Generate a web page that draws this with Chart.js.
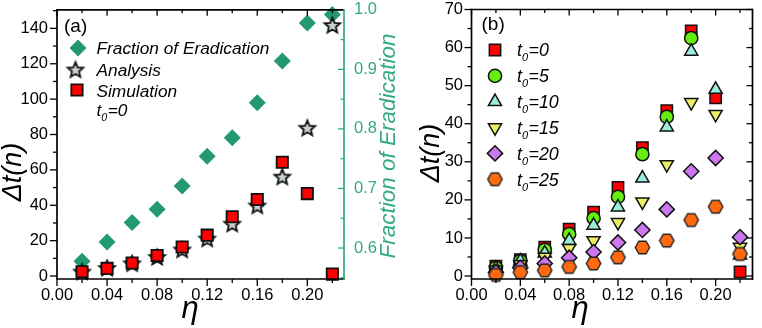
<!DOCTYPE html>
<html><head><meta charset="utf-8">
<script src="https://cdn.jsdelivr.net/npm/chart.js@4.4.0/dist/chart.umd.min.js"></script>
<style>
html,body{margin:0;padding:0;background:#fff;width:762px;height:328px;overflow:hidden}
#ca{position:absolute;left:0;top:0}
#cb{position:absolute;left:380px;top:0}
</style></head><body>
<canvas id="ca" width="410" height="328"></canvas>
<canvas id="cb" width="382" height="328"></canvas>
<script>
// ---------- data ----------
const eta = [0.02,0.04,0.06,0.08,0.10,0.12,0.14,0.16,0.18,0.20,0.22];
// panel (a)
const fractionEradication = [0.578,0.610,0.643,0.665,0.704,0.754,0.785,0.844,0.914,0.978,0.992];
const analysis   = [2.5,4.6,7.2,10.8,15.0,21.2,29.6,39.9,56.2,83.8,141.9];
const simulation = [2.4,4.3,7.4,11.6,16.4,23.1,33.5,43.3,64.3,46.6,1.1];
// panel (b)
const t0_0  = [2.6,4.3,7.6,12.3,16.8,23.3,33.7,43.4,64.4,46.8,1.1];
const t0_5  = [2.2,4.0,6.9,11.0,15.2,20.8,32.0,41.8,62.5,null,null];
const t0_10 = [2.0,3.9,6.0,9.3,13.3,18.1,25.7,39.1,59.0,49.0,5.5];
const t0_15 = [1.6,3.0,5.0,7.3,9.3,14.1,19.5,29.3,45.6,42.5,7.6];
const t0_20 = [1.0,2.2,3.3,4.8,6.3,8.8,12.1,17.5,27.5,31.0,10.2];
const t0_25 = [0.3,1.0,1.5,2.4,3.3,4.9,7.5,9.3,14.7,18.2,5.8];
// ticks
const xTicksMajor = [0,0.04,0.08,0.12,0.16,0.20];
const yTicksA = [0,20,40,60,80,100,120,140];
const y2TicksA = [0.6,0.7,0.8,0.9,1.0];
const yTicksB = [0,10,20,30,40,50,60,70];
const legendA = ['Fraction of Eradication','Analysis','Simulation'];
const legendB = ['0','5','10','15','20','25'];

// ---------- styling helpers ----------
const FONT = "'Liberation Sans', Arial, sans-serif";
Chart.defaults.font.family = FONT;
const GREEN = '#23996f';
const GREEN_AX = '#35a982';
const H = Chart.helpers;

function pts(ys){ return eta.map((x,i)=>({x:x,y:ys[i]})).filter(p=>p.y!==null); }

function makeStar(R, r, fill, stroke, lw){
  const s = Math.ceil(2*R + lw + 3);
  const c = document.createElement('canvas'); c.width = s; c.height = s;
  const g = c.getContext('2d');
  g.translate(s/2, s/2 + 0.8);
  g.beginPath();
  for (let i=0;i<10;i++){ const rr = i%2===0?R:r; const a = -Math.PI/2 + i*Math.PI/5; g.lineTo(rr*Math.cos(a), rr*Math.sin(a)); }
  g.closePath(); g.fillStyle = fill; g.fill();
  g.lineWidth = lw; g.strokeStyle = stroke; g.lineJoin = 'miter'; g.stroke();
  return c;
}
function makeHex(R, fill, stroke, lw){
  const s = Math.ceil(2*R + lw + 3);
  const c = document.createElement('canvas'); c.width = s; c.height = s;
  const g = c.getContext('2d');
  g.translate(s/2, s/2);
  g.beginPath();
  for (let i=0;i<6;i++){ const a = i*Math.PI/3; g.lineTo(R*Math.cos(a), R*Math.sin(a)); }
  g.closePath(); g.fillStyle = fill; g.fill();
  g.lineWidth = lw; g.strokeStyle = stroke; g.stroke();
  return c;
}
const starImg = makeStar(8.2, 3.7, '#c9d2d2', '#111', 1.8);
const hexImg = makeHex(7.2, '#ff6a10', '#222', 1.4);

function fixScale(w, h){
  return function(s){
    if (w !== undefined) s.width = w;
    if (h !== undefined) s.height = h;
    s.paddingTop = 0; s.paddingBottom = 0; s.paddingLeft = 0; s.paddingRight = 0;
  };
}
function line(ctx,x1,y1,x2,y2,col){ ctx.strokeStyle = col; ctx.beginPath(); ctx.moveTo(x1,y1); ctx.lineTo(x2,y2); ctx.stroke(); }

function drawFrameAndTicks(chart, cfg){
  const {ctx, chartArea:a, scales} = chart;
  ctx.save();
  ctx.lineWidth = 1.6;
  // ticks
  ctx.lineWidth = 1.3;
  // bottom / top
  for (let i=0;i<=11;i++){
    const v = i*0.02; const x = scales.x.getPixelForValue(v);
    if (x > a.right + 0.5) continue;
    const major = i%2===0;
    line(ctx, x, a.bottom, x, a.bottom + (major?7:4), '#000');
    line(ctx, x, a.top, x, a.top + (major?6:3.5), '#000');
  }
  // left
  for (let v=0; v<=cfg.yMax; v+=cfg.yMinor){
    const y = scales.y.getPixelForValue(v);
    if (y < a.top - 0.5) continue;
    const major = Math.round(v/cfg.yMinor)%2===0;
    line(ctx, a.left - (major?7:4), y, a.left, y, '#000');
    if (!cfg.right2) line(ctx, a.right - (major?6:3.5), y, a.right, y, '#000');
  }
  if (cfg.right2){
    for (let k=0; k<=9; k++){
      const v = 0.55 + k*0.05; const y = scales.y2.getPixelForValue(v);
      if (y > a.bottom + 0.5) continue;
      const major = k%2===1;
      line(ctx, a.right - (major?6:3.5), y, a.right, y, GREEN_AX);
    }
  }
  // frame
  ctx.lineWidth = 1.7;
  line(ctx, a.left, a.top, a.right, a.top, '#000');
  line(ctx, a.left, a.bottom, a.right + 0.8, a.bottom, '#000');
  line(ctx, a.left, a.top - 0.8, a.left, a.bottom + 0.8, '#000');
  line(ctx, a.right, a.top - 0.8, a.right, a.bottom + 0.8, cfg.right2 ? GREEN_AX : '#000');
  ctx.restore();
}
function rotText(ctx, txt, x, y, font, col){
  ctx.save(); ctx.translate(x,y); ctx.rotate(-Math.PI/2);
  ctx.font = font; ctx.fillStyle = col; ctx.textAlign = 'center'; ctx.textBaseline = 'middle';
  ctx.fillText(txt, 0, 0); ctx.restore();
}
function subText(ctx, x, base, main, sub, rest, size){
  ctx.save();
  ctx.fillStyle = '#000'; ctx.textBaseline = 'alphabetic'; ctx.textAlign = 'left';
  ctx.font = 'italic ' + size + 'px ' + FONT;
  ctx.fillText(main, x, base); x += ctx.measureText(main).width;
  ctx.font = 'italic ' + (size*0.62) + 'px ' + FONT;
  ctx.fillText(sub, x, base + 5); x += ctx.measureText(sub).width + 0.5;
  ctx.font = 'italic ' + size + 'px ' + FONT;
  ctx.fillText(rest, x, base);
  ctx.restore();
}
function marker(ctx, opts, x, y){
  ctx.save();
  ctx.fillStyle = opts.bg || '#000'; ctx.strokeStyle = opts.bc || '#000'; ctx.lineWidth = opts.bw || 0;
  H.drawPoint(ctx, {pointStyle: opts.style, radius: opts.r, rotation: opts.rot || 0, borderWidth: opts.bw || 0}, x, y);
  ctx.restore();
}

// ---------- panel (a) ----------
const styleA = [
  {style:'rectRot', r:8.5, bg:GREEN, bw:0},
  {style:starImg, r:8},
  {style:'rect', r:8, bg:'#ff0000', bc:'#111', bw:1.8}
];
const decoA = {
  id:'decoA',
  afterDraw(chart){
    const ctx = chart.ctx;
    drawFrameAndTicks(chart, {yMax:150, yMinor:10, right2:true});
    rotText(ctx, '\u0394t(n)', 13, 172, 'italic 27px ' + FONT, '#000');
    rotText(ctx, 'Fraction of Eradication', 389, 146, 'italic 22.5px ' + FONT, GREEN_AX);
    ctx.save();
    ctx.font = 'italic 31px ' + FONT; ctx.fillStyle = '#000'; ctx.textAlign = 'center'; ctx.textBaseline = 'alphabetic';
    ctx.fillText('\u03B7', 190, 318);
    ctx.font = '19px ' + FONT; ctx.textAlign = 'left'; ctx.textBaseline = 'alphabetic';
    ctx.fillText('(a)', 64, 32);
    ctx.font = 'italic 17.3px ' + FONT;
    const bases = [54, 75.5, 96.5];
    const my = [48, 69.5, 90];
    const mx = [78, 75.5, 77];
    legendA.forEach((t,i)=>{ ctx.fillText(t, 96.5, bases[i]); marker(ctx, styleA[i], mx[i], my[i]); });
    ctx.restore();
    subText(ctx, 96.5, 115.5, 't', '0', '=0', 17.3);
  }
};
new Chart(document.getElementById('ca'), {
  type:'scatter',
  data:{datasets:[
    {label:legendA[0], data:pts(fractionEradication), yAxisID:'y2', order:3,
     pointStyle:'rectRot', pointRadius:8.5, pointBackgroundColor:GREEN, pointBorderWidth:0, clip:false},
    {label:legendA[1], data:pts(analysis), yAxisID:'y', order:2,
     pointStyle:starImg, pointRadius:8, clip:false},
    {label:legendA[2], data:pts(simulation), yAxisID:'y', order:1,
     pointStyle:'rect', pointRadius:8, pointBackgroundColor:'#ff0000', pointBorderColor:'#111', pointBorderWidth:1.8, clip:false}
  ]},
  options:{
    responsive:false, animation:false, events:[],
    layout:{padding:{top:8,left:0,right:0,bottom:0}},
    plugins:{legend:{display:false}, tooltip:{enabled:false}},
    scales:{
      x:{type:'linear', position:'bottom', min:0, max:0.2293,
         grid:{display:false, drawTicks:false, tickLength:0}, border:{display:false},
         afterBuildTicks:(s)=>{ s.ticks = xTicksMajor.map(v=>({value:v})); },
         ticks:{padding:7, color:'#000', font:{size:16.5}, maxRotation:0, autoSkip:false, callback:(v)=>Number(v).toFixed(2)},
         afterFit:fixScale(undefined, 49)},
      y:{type:'linear', position:'left', min:-1.68, max:150.5,
         grid:{display:false, drawTicks:false, tickLength:0}, border:{display:false},
         afterBuildTicks:(s)=>{ s.ticks = yTicksA.map(v=>({value:v})); },
         ticks:{padding:9, color:'#000', font:{size:16.5}, autoSkip:false, callback:(v)=>String(v)},
         afterFit:fixScale(57)},
      y2:{type:'linear', position:'right', min:0.548, max:1.0,
         grid:{display:false, drawTicks:false, tickLength:0}, border:{display:false},
         afterBuildTicks:(s)=>{ s.ticks = y2TicksA.map(v=>({value:v})); },
         ticks:{padding:10, color:GREEN_AX, font:{size:16.5}, autoSkip:false, callback:(v)=>Number(v).toFixed(1)},
         afterFit:fixScale(66)}
    }
  },
  plugins:[decoA]
});

// ---------- panel (b) ----------
const styleB = [
  {style:'rect', r:8, bg:'#ff0000', bc:'#111', bw:1.5},
  {style:'circle', r:6.6, bg:'#66ee11', bc:'#111', bw:1.5},
  {style:'triangle', r:7.6, bg:'#99eedd', bc:'#111', bw:1.5},
  {style:'triangle', r:7.6, rot:180, bg:'#eeee66', bc:'#111', bw:1.5},
  {style:'rectRot', r:7.6, bg:'#cc77ee', bc:'#111', bw:1.5},
  {style:hexImg, r:7}
];
const seriesB = [t0_0,t0_5,t0_10,t0_15,t0_20,t0_25];
const decoB = {
  id:'decoB',
  afterDraw(chart){
    const ctx = chart.ctx;
    drawFrameAndTicks(chart, {yMax:70, yMinor:5, right2:false});
    rotText(ctx, '\u0394t(n)', 51, 153, 'italic 27px ' + FONT, '#000');
    ctx.save();
    ctx.font = 'italic 31px ' + FONT; ctx.fillStyle = '#000'; ctx.textAlign = 'center'; ctx.textBaseline = 'alphabetic';
    ctx.fillText('\u03B7', 200, 318);
    ctx.font = '19px ' + FONT; ctx.textAlign = 'left';
    ctx.fillText('(b)', 101.5, 30);
    ctx.restore();
    legendB.forEach((t,i)=>{
      const cy = 50 + i*25.85;
      marker(ctx, styleB[i], 115, cy);
      subText(ctx, 137, cy + 6.3, 't', '0', '=' + t, 17.8);
    });
  }
};
new Chart(document.getElementById('cb'), {
  type:'scatter',
  data:{datasets: seriesB.map((s,i)=>({
    label:'t0=' + legendB[i], data:pts(s), order:6-i, clip:false,
    pointStyle:styleB[i].style, pointRadius:styleB[i].r, pointRotation:styleB[i].rot || 0,
    pointBackgroundColor:styleB[i].bg || '#000', pointBorderColor:styleB[i].bc || '#000', pointBorderWidth:styleB[i].bw || 0
  }))},
  options:{
    responsive:false, animation:false, events:[],
    layout:{padding:{top:7,left:0,right:1,bottom:0}},
    plugins:{legend:{display:false}, tooltip:{enabled:false}},
    scales:{
      x:{type:'linear', position:'bottom', min:0, max:0.2302,
         grid:{display:false, drawTicks:false, tickLength:0}, border:{display:false},
         afterBuildTicks:(s)=>{ s.ticks = xTicksMajor.map(v=>({value:v})); },
         ticks:{padding:7, color:'#000', font:{size:16.5}, maxRotation:0, autoSkip:false, callback:(v)=>Number(v).toFixed(2)},
         afterFit:fixScale(undefined, 49)},
      y:{type:'linear', position:'left', min:-0.78, max:70,
         grid:{display:false, drawTicks:false, tickLength:0}, border:{display:false},
         afterBuildTicks:(s)=>{ s.ticks = yTicksB.map(v=>({value:v})); },
         ticks:{padding:8.5, color:'#000', font:{size:16.5}, autoSkip:false, callback:(v)=>String(v)},
         afterFit:fixScale(91.5)}
    }
  },
  plugins:[decoB]
});
</script>
</body></html>
